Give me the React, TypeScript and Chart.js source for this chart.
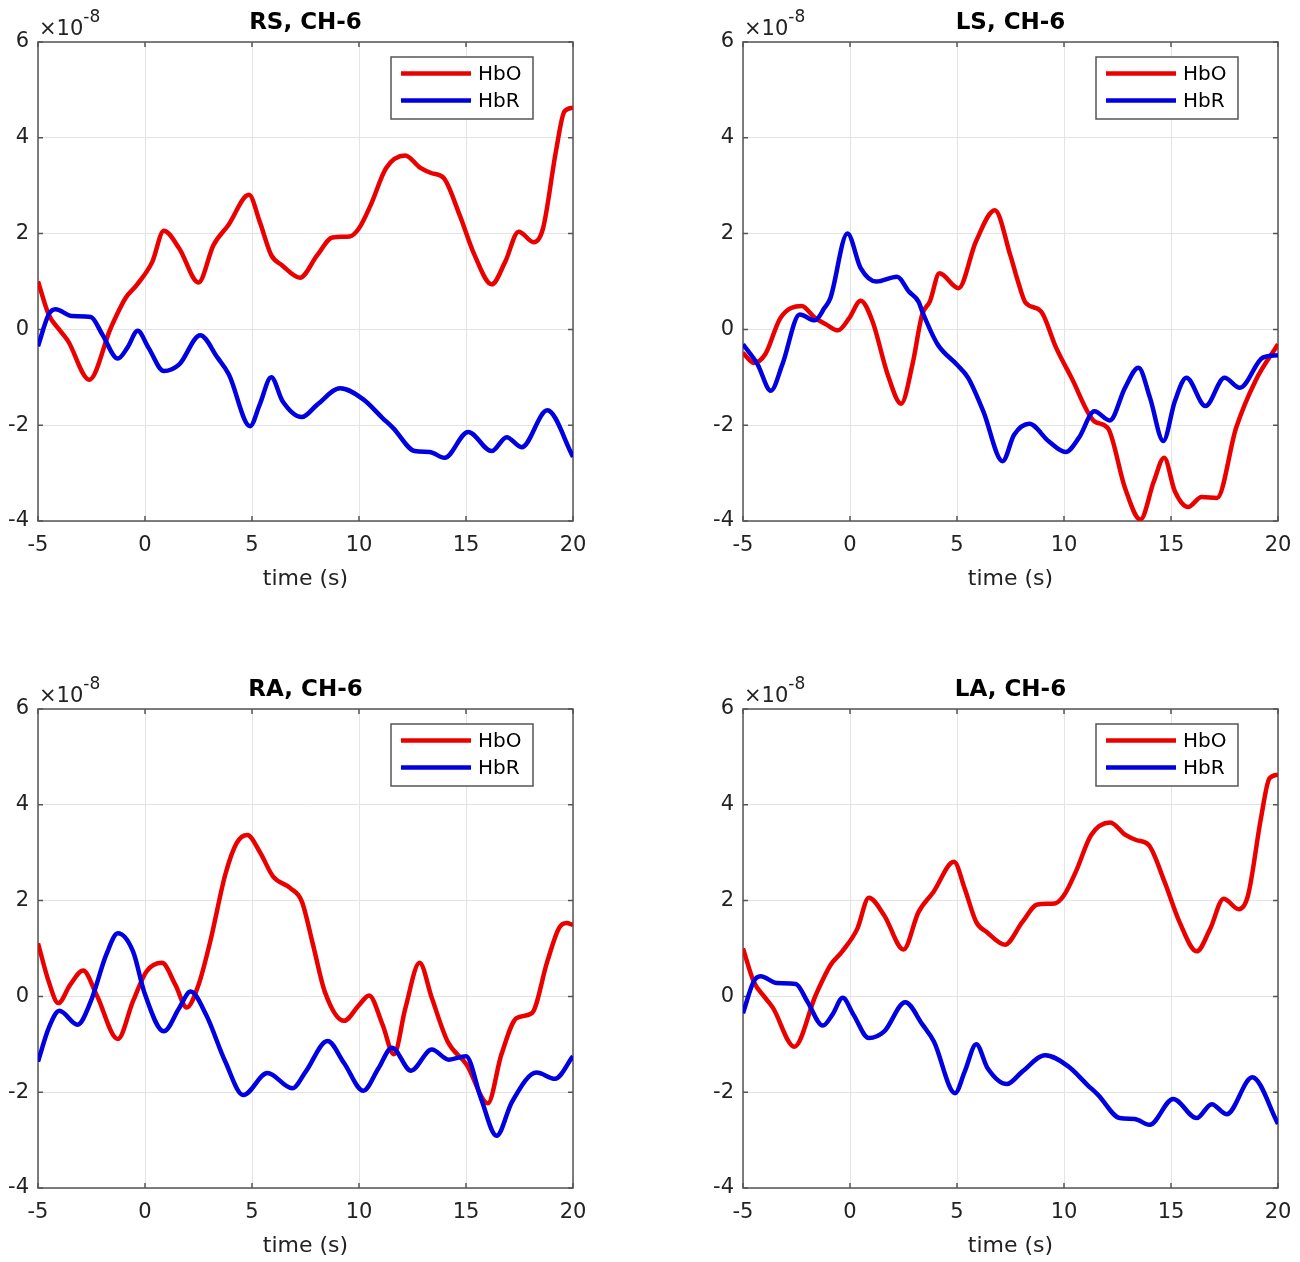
import { useEffect, useRef } from "react";
import { Chart, registerables } from "chart.js";

Chart.register(...registerables);

// time (s) and concentration (x 1e-8)
const rsHboT = [-5, -4.5, -3.96, -3.6, -2.6, -1.6, -0.9, -0.38, 0.34, 0.88, 1.6, 2.5, 3.2, 3.9, 4.86, 5.36, 5.9, 6.4, 7.24, 8.05, 8.76, 9.57, 10, 10.55, 11.27, 12.16, 12.87, 13.4, 13.96, 14.7, 15.4, 16.2, 16.83, 17.46, 18.17, 18.6, 19.2, 19.6, 20];
const rsHboV = [1.0, 0.31, -0.03, -0.24, -1.05, 0.03, 0.66, 0.93, 1.41, 2.06, 1.69, 0.98, 1.76, 2.18, 2.81, 2.25, 1.55, 1.34, 1.08, 1.55, 1.92, 1.94, 2.11, 2.6, 3.37, 3.63, 3.37, 3.26, 3.16, 2.39, 1.55, 0.94, 1.41, 2.04, 1.82, 2.11, 3.71, 4.55, 4.63];
const rsHbrT = [-5, -4.5, -4.18, -3.42, -2.53, -2.0, -1.27, -0.82, -0.34, 0.16, 0.88, 1.6, 2.58, 3.39, 3.92, 4.91, 5.36, 5.9, 6.43, 7.33, 8.05, 9.12, 10.2, 11.1, 11.6, 12.6, 13.3, 14.0, 15.1, 16.2, 16.9, 17.6, 18.8, 20];
const rsHbrV = [-0.35, 0.31, 0.42, 0.28, 0.26, -0.1, -0.61, -0.38, -0.03, -0.38, -0.87, -0.73, -0.12, -0.59, -0.94, -2.02, -1.57, -1.0, -1.5, -1.83, -1.57, -1.23, -1.46, -1.85, -2.06, -2.54, -2.56, -2.68, -2.14, -2.54, -2.25, -2.46, -1.69, -2.66];

const lsHboT = [-5, -4.5, -3.96, -3.25, -2.26, -1.64, -1.1, -0.56, -0.03, 0.5, 1.05, 1.76, 2.39, 2.92, 3.37, 3.73, 4.18, 5.07, 5.88, 6.77, 7.49, 7.85, 8.2, 8.92, 9.63, 10.35, 11.42, 12.05, 12.85, 13.57, 14.2, 14.68, 15.18, 15.8, 16.43, 17.15, 18.04, 18.94, 20];
const lsHboV = [-0.49, -0.7, -0.52, 0.24, 0.49, 0.24, 0.1, -0.02, 0.24, 0.6, 0.17, -0.94, -1.55, -0.73, 0.31, 0.58, 1.17, 0.86, 1.83, 2.49, 1.55, 1.0, 0.56, 0.38, -0.38, -1.01, -1.92, -2.06, -3.31, -3.97, -3.17, -2.68, -3.38, -3.71, -3.5, -3.52, -2.06, -1.08, -0.31];
const lsHbrT = [-5, -4.32, -3.7, -3.16, -2.35, -1.64, -1.19, -0.92, -0.12, 0.5, 1.23, 2.2, 2.75, 3.2, 3.37, 4.09, 4.98, 5.52, 6.23, 7.13, 7.67, 8.38, 9.27, 10.08, 10.7, 11.42, 12.14, 12.85, 13.48, 14.02, 14.64, 15.18, 15.72, 16.61, 17.5, 18.22, 19.29, 20];
const lsHbrV = [-0.31, -0.73, -1.28, -0.73, 0.31, 0.19, 0.45, 0.65, 2.0, 1.28, 1.0, 1.1, 0.79, 0.58, 0.38, -0.31, -0.73, -1.01, -1.71, -2.75, -2.2, -1.97, -2.33, -2.56, -2.26, -1.71, -1.9, -1.22, -0.8, -1.43, -2.33, -1.5, -1.01, -1.6, -1.01, -1.22, -0.59, -0.54];

const raHboT = [-5, -4.5, -4.05, -3.5, -2.89, -2.26, -1.27, -0.56, 0.07, 0.79, 1.42, 1.95, 2.5, 3.05, 3.75, 4.28, 4.78, 5.36, 5.99, 6.79, 7.33, 7.85, 8.4, 9.3, 10.02, 10.47, 11.1, 11.63, 12.17, 12.83, 13.4, 14.14, 15.04, 16.02, 16.65, 17.37, 18.08, 18.8, 19.34, 19.7, 20];
const raHboV = [1.11, 0.31, -0.14, 0.24, 0.54, 0.03, -0.89, -0.1, 0.52, 0.7, 0.24, -0.23, 0.24, 1.15, 2.54, 3.2, 3.37, 3.02, 2.5, 2.26, 1.98, 1.08, 0.1, -0.51, -0.17, 0.02, -0.59, -1.21, -0.24, 0.7, -0.03, -0.94, -1.43, -2.23, -1.22, -0.45, -0.35, 0.73, 1.42, 1.53, 1.49];
const raHbrT = [-5, -4.5, -4.0, -3.15, -2.53, -1.81, -1.27, -0.56, -0.02, 0.88, 1.6, 2.13, 2.85, 3.75, 4.59, 5.72, 6.88, 7.51, 8.53, 9.3, 10.2, 10.91, 11.54, 12.43, 13.4, 14.2, 15.0, 15.7, 16.43, 17.15, 18.3, 19.16, 20];
const raHbrV = [-1.36, -0.66, -0.3, -0.59, -0.1, 0.87, 1.32, 0.94, 0.07, -0.73, -0.24, 0.1, -0.38, -1.36, -2.06, -1.6, -1.92, -1.57, -0.93, -1.39, -1.97, -1.5, -1.07, -1.55, -1.11, -1.32, -1.25, -2.13, -2.91, -2.2, -1.59, -1.72, -1.25];

// the LA panel shows the same traces as RS
const laHboT = rsHboT;
const laHboV = rsHboV;
const laHbrT = rsHbrT;
const laHbrV = rsHbrV;

const xTicks = [-5, 0, 5, 10, 15, 20];
const yTicks = [-4, -2, 0, 2, 4, 6];

const FONT = "'DejaVu Sans', sans-serif";
const INK = "#222";
const RED = "rgb(235,0,0)";
const BLUE = "rgb(0,0,225)";

const pts = (t: number[], v: number[]) => t.map((x, i) => ({ x, y: v[i] }));

const frame = {
  id: "frame",
  beforeDatasetsDraw(chart: any) {
    const { ctx, chartArea: a, scales } = chart;
    ctx.save();
    ctx.strokeStyle = "#555";
    ctx.lineWidth = 1.5;
    ctx.strokeRect(a.left, a.top, a.right - a.left, a.bottom - a.top);
    ctx.beginPath();
    xTicks.forEach((t) => {
      const px = scales.x.getPixelForValue(t);
      ctx.moveTo(px, a.bottom);
      ctx.lineTo(px, a.bottom - 5);
      ctx.moveTo(px, a.top);
      ctx.lineTo(px, a.top + 5);
    });
    yTicks.forEach((t) => {
      const py = scales.y.getPixelForValue(t);
      ctx.moveTo(a.left, py);
      ctx.lineTo(a.left + 5, py);
      ctx.moveTo(a.right, py);
      ctx.lineTo(a.right - 5, py);
    });
    ctx.stroke();
    ctx.restore();
  },
  afterDraw(chart: any, _args: any, opts: any) {
    const { ctx, chartArea: a } = chart;
    ctx.save();
    ctx.fillStyle = "#000";
    ctx.textAlign = "center";
    ctx.textBaseline = "alphabetic";
    ctx.font = `bold 23px ${FONT}`;
    ctx.fillText(opts.title, (a.left + a.right) / 2, a.top - 13);

    ctx.fillStyle = INK;
    ctx.textAlign = "left";
    ctx.font = `21px ${FONT}`;
    const base = "\u00d710";
    ctx.fillText(base, a.left + 1, a.top - 7);
    const w = ctx.measureText(base).width;
    ctx.font = `17px ${FONT}`;
    ctx.fillText("-8", a.left + 1 + w, a.top - 20);

    // legend inside the axes, top right
    const bw = 142;
    const bh = 62;
    const bx = a.right - 40 - bw;
    const by = a.top + 15;
    ctx.fillStyle = "#fff";
    ctx.fillRect(bx, by, bw, bh);
    ctx.strokeStyle = "#555";
    ctx.lineWidth = 1.5;
    ctx.strokeRect(bx, by, bw, bh);
    ctx.font = `20px ${FONT}`;
    ctx.textBaseline = "middle";
    chart.data.datasets.forEach((ds: any, i: number) => {
      const y = by + 16.5 + i * 27;
      ctx.strokeStyle = ds.borderColor;
      ctx.lineWidth = 4.5;
      ctx.beginPath();
      ctx.moveTo(bx + 10, y);
      ctx.lineTo(bx + 80, y);
      ctx.stroke();
      ctx.fillStyle = "#000";
      ctx.fillText(ds.label, bx + 87, y + 1);
    });
    ctx.restore();
  },
};

type PanelProps = {
  title: string;
  hboT: number[];
  hboV: number[];
  hbrT: number[];
  hbrV: number[];
};

const Panel = ({ title, hboT, hboV, hbrT, hbrV }: PanelProps) => {
  const chartRef = useRef<HTMLCanvasElement>(null);

  useEffect(() => {
    const ctx = chartRef.current!.getContext("2d")!;
    const line = {
      borderWidth: 4.5,
      pointRadius: 0,
      fill: false,
      cubicInterpolationMode: "monotone" as const,
    };

    const chart = new Chart(ctx, {
      type: "line",
      data: {
        datasets: [
          { label: "HbO", data: pts(hboT, hboV), borderColor: RED, order: 1, ...line },
          { label: "HbR", data: pts(hbrT, hbrV), borderColor: BLUE, order: 0, ...line },
        ],
      },
      plugins: [frame],
      options: {
        animation: false,
        responsive: true,
        maintainAspectRatio: false,
        layout: { padding: { left: 0, right: 22, top: 42, bottom: 1 } },
        plugins: {
          legend: { display: false },
          tooltip: { enabled: false },
          // @ts-ignore
          frame: { title },
        },
        scales: {
          x: {
            type: "linear",
            min: -5,
            max: 20,
            afterBuildTicks: (s: any) => {
              s.ticks = xTicks.map((value) => ({ value }));
            },
            afterFit: (s: any) => {
              s.height = 73;
              s.paddingLeft = 0;
              s.paddingRight = 0;
            },
            ticks: { color: INK, font: { family: FONT, size: 21 }, padding: 12 },
            grid: { color: "#e4e4e4", lineWidth: 1, drawTicks: false },
            border: { display: false },
            title: {
              display: true,
              text: "time (s)",
              color: INK,
              font: { family: FONT, size: 22 },
              padding: { top: 0, bottom: 2 },
            },
          },
          y: {
            min: -4,
            max: 6,
            afterBuildTicks: (s: any) => {
              s.ticks = yTicks.map((value) => ({ value }));
            },
            afterFit: (s: any) => {
              s.width = 38;
            },
            ticks: { color: INK, font: { family: FONT, size: 21 }, padding: 9 },
            grid: { color: "#e4e4e4", lineWidth: 1, drawTicks: false },
            border: { display: false },
          },
        },
      },
    });

    return () => {
      chart.destroy();
    };
  }, [title, hboT, hboV, hbrT, hbrV]);

  return (
    <div style={{ position: "relative", width: "100%", height: "100%" }}>
      <canvas ref={chartRef}></canvas>
    </div>
  );
};

const panels: PanelProps[] = [
  { title: "RS, CH-6", hboT: rsHboT, hboV: rsHboV, hbrT: rsHbrT, hbrV: rsHbrV },
  { title: "LS, CH-6", hboT: lsHboT, hboV: lsHboV, hbrT: lsHbrT, hbrV: lsHbrV },
  { title: "RA, CH-6", hboT: raHboT, hboV: raHboV, hbrT: raHbrT, hbrV: raHbrV },
  { title: "LA, CH-6", hboT: laHboT, hboV: laHboV, hbrT: laHbrT, hbrV: laHbrV },
];

export default function App() {
  return (
    <div
      style={{
        position: "absolute",
        left: 0,
        top: 0,
        width: 1300,
        height: 1262,
        background: "#fff",
        overflow: "hidden",
      }}
    >
      {panels.map((p, i) => (
        <div
          key={p.title}
          style={{
            position: "absolute",
            left: i % 2 ? 705 : 0,
            top: i < 2 ? 0 : 667,
            width: 595,
            height: 595,
          }}
        >
          <Panel {...p} />
        </div>
      ))}
    </div>
  );
}
